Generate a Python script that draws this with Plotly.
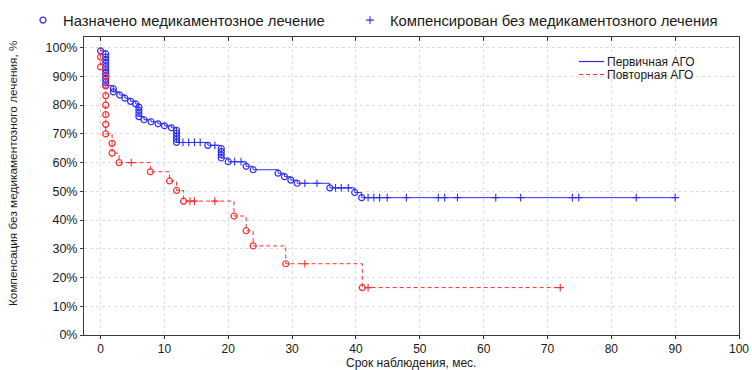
import plotly.graph_objects as go

# Первичная АГО: event times (months) and survival after each event (%)
primary_event_t = [0.0,
                   0.8, 0.8, 0.8, 0.8, 0.8, 0.8, 0.8, 0.8, 0.8, 0.8, 0.8,
                   2.0, 2.0,
                   3.0, 3.8, 4.7, 5.5,
                   6.0, 6.0, 6.0, 6.0,
                   6.8, 7.9, 9.0, 10.0, 11.1,
                   11.9, 11.9, 11.9, 11.9, 11.9,
                   16.8,
                   18.9, 18.9, 18.9, 18.9,
                   20.0, 22.8, 23.9,
                   27.8, 28.8, 29.8, 30.8,
                   35.9, 39.8, 40.9]
primary_event_s = [98.9,
                   97.8, 96.7, 95.6, 94.5, 93.4, 92.3, 91.2, 90.1, 89.0, 87.9, 86.8,
                   85.7, 84.6,
                   83.5, 82.4, 81.3, 80.4,
                   79.3, 78.2, 77.1, 76.0,
                   74.9, 74.2, 73.5, 72.8, 72.1,
                   71.2, 70.2, 69.1, 68.1, 67.0,
                   66.0,
                   64.9, 63.8, 62.7, 61.6,
                   60.3, 58.7, 57.5,
                   56.3, 55.1, 53.9, 52.8,
                   51.2, 49.6, 47.8]
primary_censor_t = [12.9, 13.8, 14.7, 15.6, 17.9, 21.0, 22.0, 32.0, 33.9,
                    36.8, 37.7, 38.8, 41.9, 42.8, 43.7, 44.9, 47.9, 52.9,
                    53.9, 55.9, 61.9, 65.8, 73.9, 74.9, 83.9, 90.0]

# Повторная АГО
repeat_event_t = [0.0, 0.0,
                  0.8, 0.8, 0.8, 0.8, 0.8, 0.8, 0.8,
                  1.8, 1.8, 2.9,
                  7.8, 10.8, 11.9, 13.0,
                  20.9, 22.8, 23.9, 29.0, 41.0]
repeat_event_s = [96.7, 93.3,
                  90.0, 86.7, 83.3, 80.0, 76.7, 73.3, 70.0,
                  66.7, 63.3, 60.0,
                  56.8, 53.6, 50.3, 46.6,
                  41.4, 36.3, 31.0, 24.8, 16.5]
repeat_censor_t = [4.8, 14.0, 14.7, 17.9, 32.0, 41.9, 72.0]

x_ticks = list(range(0, 101, 10))
y_ticks = list(range(0, 101, 10))
y_tick_text = [f"{v}%" for v in y_ticks]

BLUE = "rgb(45,45,255)"
RED = "rgb(255,45,45)"
FONT = "Liberation Sans, Arial, sans-serif"
INK = "#1a1a1a"


def step_path(event_t, event_s, end_t):
    xs, ys = [0.0], [100.0]
    for t, s in zip(event_t, event_s):
        xs.append(t)
        ys.append(s)
    xs.append(end_t)
    ys.append(event_s[-1])
    return xs, ys


def level_at(t, event_t, event_s):
    level = 100.0
    for et, es in zip(event_t, event_s):
        if et <= t:
            level = es
    return level


fig = go.Figure()

groups = [
    (primary_event_t, primary_event_s, primary_censor_t, BLUE, "solid", True),
    (repeat_event_t, repeat_event_s, repeat_censor_t, RED, "4px,3px", False),
]

for ev_t, ev_s, cen_t, color, dash, lead in groups:
    px_, py_ = step_path(ev_t, ev_s, max(cen_t))
    fig.add_trace(go.Scatter(
        x=px_, y=py_, mode="lines", line=dict(color=color, width=1, dash=dash, shape="hv"),
        showlegend=False, hoverinfo="skip"))
    fig.add_trace(go.Scatter(
        x=ev_t, y=ev_s, mode="markers",
        marker=dict(symbol="circle-open", size=6, color=color, line=dict(width=1.2, color=color)),
        name="Назначено медикаментозное лечение", showlegend=lead, legend="legend"))
    fig.add_trace(go.Scatter(
        x=cen_t, y=[level_at(t, ev_t, ev_s) for t in cen_t], mode="markers",
        marker=dict(symbol="cross-thin", size=5.5, color=color, line=dict(width=1.1, color=color)),
        name="Компенсирован без медикаментозного лечения", showlegend=lead, legend="legend2"))

# invisible trace carrying the top axis with inward ticks
fig.add_trace(go.Scatter(x=[0], y=[0], xaxis="x2", mode="markers",
                         marker=dict(opacity=0), showlegend=False, hoverinfo="skip"))

L, R, T, B = 84, 13, 37, 35
W, H = 752, 370
PW, PH = W - L - R, H - T - B


def pxx(v):
    return (v - L) / PW


def pyy(v):
    return (H - B - v) / PH


# line-type key inside the plot
key = [("Первичная АГО", BLUE, "solid", 61.5), ("Повторная АГО", RED, "dash", 74.5)]
shapes, annotations = [], []
for label, color, dash, ypx in key:
    shapes.append(dict(type="line", xref="paper", yref="paper",
                       x0=pxx(579), x1=pxx(604), y0=pyy(ypx), y1=pyy(ypx),
                       line=dict(color=color, width=1.2, dash="4px,3px" if dash == "dash" else "solid")))
    annotations.append(dict(text=label, xref="paper", yref="paper", x=pxx(605), y=pyy(ypx),
                            xanchor="left", yanchor="middle", showarrow=False,
                            font=dict(family=FONT, size=12, color=INK)))

annotations.append(dict(text="Компенсация без медикаментозного лечения, %", xref="paper", yref="paper",
                        x=pxx(13), y=pyy(173), textangle=-90, showarrow=False,
                        xanchor="center", yanchor="middle",
                        font=dict(family=FONT, size=11.8, color=INK)))
annotations.append(dict(text="Срок наблюдения, мес.", xref="paper", yref="paper",
                        x=pxx(411), y=pyy(362.5), showarrow=False,
                        xanchor="center", yanchor="middle",
                        font=dict(family=FONT, size=12, color=INK)))

axis_common = dict(showline=True, linecolor="#3a3a3a", linewidth=1, mirror=True,
                   ticks="outside", ticklen=3, tickcolor="#3a3a3a", automargin=False,
                   showgrid=True, gridcolor="#dcdcdc", griddash="dot", gridwidth=1,
                   zeroline=False)

fig.update_layout(
    width=W, height=H,
    margin=dict(l=L, r=R, t=T, b=B, autoexpand=False),
    paper_bgcolor="white", plot_bgcolor="white",
    xaxis=dict(range=[-2.6, 100], tickvals=x_ticks,
               tickfont=dict(family=FONT, size=12, color=INK), **axis_common),
    xaxis2=dict(range=[-2.6, 100], overlaying="x", side="top", tickvals=x_ticks[:-1],
                ticks="inside", ticklen=4, tickcolor="#3a3a3a", showticklabels=False,
                showgrid=False, zeroline=False, showline=False, automargin=False),
    yaxis=dict(range=[0, 103.7], tickvals=y_ticks, ticktext=y_tick_text,
               tickfont=dict(family=FONT, size=12.5, color=INK), **axis_common),
    legend=dict(x=pxx(23), y=pyy(4), orientation="h", yanchor="top", xanchor="left",
                font=dict(family=FONT, size=14.8, color=INK),
                bgcolor="rgba(0,0,0,0)", itemclick=False),
    legend2=dict(x=pxx(350), y=pyy(4), orientation="h", yanchor="top", xanchor="left",
                 font=dict(family=FONT, size=14.8, color=INK),
                 bgcolor="rgba(0,0,0,0)", itemclick=False),
    shapes=shapes,
    annotations=annotations,
    showlegend=True,
)

fig.write_html("out.html")
